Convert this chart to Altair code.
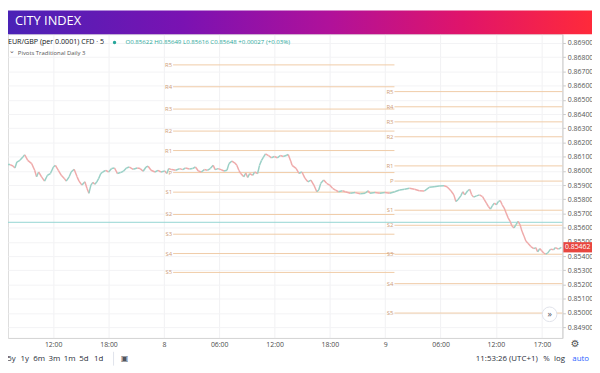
import altair as alt
import pandas as pd

FONT = "Open Sans"

# ---------------- data ----------------
# price path: (hours from 8th 00:00, price)
path_day7 = [
    (-17.75, 0.86044), (-16.68, 0.86044), (-16.36, 0.86034), (-16.15, 0.86020), (-15.94, 0.86062),
    (-15.61, 0.86074), (-15.29, 0.86097), (-15.08, 0.86113), (-14.76, 0.86074), (-14.33, 0.86051),
    (-14.01, 0.86004), (-13.80, 0.85958), (-13.58, 0.85992), (-13.26, 0.85958), (-12.94, 0.85928),
    (-12.62, 0.85969), (-12.30, 0.85981), (-11.98, 0.86027), (-11.76, 0.86039), (-11.44, 0.86004),
    (-11.12, 0.85969), (-10.80, 0.85947), (-10.59, 0.85928), (-10.27, 0.85958), (-10.05, 0.85992),
    (-9.73, 0.86011), (-9.41, 0.85958), (-9.20, 0.85928), (-8.88, 0.85900), (-8.56, 0.85923),
    (-8.34, 0.85877), (-8.13, 0.85842), (-7.91, 0.85900), (-7.70, 0.85919), (-7.49, 0.85905),
    (-7.27, 0.85923), (-7.06, 0.85947), (-6.84, 0.85981), (-6.63, 0.85992), (-6.31, 0.86004),
    (-5.99, 0.85992), (-5.67, 0.86016), (-5.35, 0.86020), (-5.03, 0.85981), (-4.71, 0.85988),
    (-4.39, 0.85997), (-4.06, 0.86020), (-3.74, 0.86027), (-3.32, 0.86011), (-2.89, 0.86020),
    (-2.57, 0.86016), (-2.25, 0.85997),
]
path_day8_am = [
    (-1.93, 0.86027), (-1.71, 0.86032), (-1.39, 0.86004), (-0.96, 0.85992), (-0.64, 0.86004),
    (-0.32, 0.85992), (0.11, 0.85999), (0.32, 0.85981), (0.53, 0.86016), (0.86, 0.86009),
    (1.28, 0.86004), (1.71, 0.86016), (2.03, 0.86009), (2.35, 0.86020), (2.78, 0.86013),
    (3.10, 0.86016), (3.42, 0.86027), (3.74, 0.85999), (4.06, 0.85992), (4.39, 0.86009),
    (4.71, 0.86004), (5.03, 0.86016), (5.35, 0.86039), (5.56, 0.86009), (5.88, 0.86016),
    (6.20, 0.86009), (6.52, 0.85999), (6.84, 0.86004), (7.06, 0.86051), (7.38, 0.86069),
    (7.70, 0.86055), (7.91, 0.86039), (8.13, 0.86004), (8.34, 0.85981), (8.66, 0.85958),
    (8.88, 0.85985), (9.09, 0.85953), (9.30, 0.85981), (9.63, 0.85969), (9.84, 0.85992),
    (10.16, 0.85981), (10.37, 0.86039), (10.59, 0.86074), (10.80, 0.86097), (11.02, 0.86120),
    (11.34, 0.86108), (11.66, 0.86092), (11.98, 0.86101), (12.30, 0.86092), (12.62, 0.86108),
    (12.94, 0.86101), (13.26, 0.86108),
]
path_day8_pm = [
    (13.48, 0.86115), (13.75, 0.86070), (13.90, 0.86039), (14.33, 0.86018), (14.65, 0.85983),
    (14.97, 0.85992), (15.29, 0.85949), (15.61, 0.85923), (15.94, 0.85935), (16.26, 0.85900),
    (16.58, 0.85853), (16.79, 0.85865), (17.01, 0.85912), (17.33, 0.85935), (17.65, 0.85912),
    (17.97, 0.85900), (18.29, 0.85877), (18.61, 0.85865), (18.93, 0.85853), (19.36, 0.85860),
    (19.68, 0.85853), (20.21, 0.85842), (20.75, 0.85847), (21.28, 0.85838), (21.82, 0.85842),
    (22.14, 0.85860), (22.35, 0.85842), (22.89, 0.85847), (23.42, 0.85842), (23.96, 0.85847),
    (24.49, 0.85842), (25.03, 0.85853), (25.56, 0.85865), (26.10, 0.85870), (26.63, 0.85877),
    (27.17, 0.85870), (27.70, 0.85860), (28.24, 0.85858), (28.77, 0.85884),
]
path_day9 = [
    (29.30, 0.85888), (29.84, 0.85893), (30.37, 0.85895), (30.70, 0.85888), (31.12, 0.85860),
    (31.44, 0.85831), (31.66, 0.85784), (31.87, 0.85796), (32.19, 0.85824), (32.41, 0.85853),
    (32.62, 0.85831), (32.94, 0.85860), (33.16, 0.85870), (33.37, 0.85831), (33.58, 0.85815),
    (33.90, 0.85824), (34.22, 0.85831), (34.55, 0.85819), (34.76, 0.85796), (34.97, 0.85773),
    (35.19, 0.85749), (35.40, 0.85731), (35.61, 0.85754), (35.83, 0.85773), (36.04, 0.85761),
    (36.26, 0.85784), (36.47, 0.85791), (36.68, 0.85761), (36.90, 0.85738), (37.11, 0.85703),
    (37.33, 0.85669), (37.54, 0.85645), (37.75, 0.85610), (37.97, 0.85599), (38.18, 0.85622),
    (38.40, 0.85645), (38.61, 0.85622), (38.82, 0.85576), (39.04, 0.85541), (39.25, 0.85506),
    (39.47, 0.85490), (39.79, 0.85467), (40.11, 0.85453), (40.32, 0.85460), (40.53, 0.85430),
    (40.75, 0.85453), (40.96, 0.85437), (41.18, 0.85421), (41.39, 0.85414), (41.60, 0.85421),
    (41.93, 0.85449), (42.25, 0.85444), (42.46, 0.85460), (42.78, 0.85449), (43.10, 0.85462),
]

pivot_names = ["R5", "R4", "R3", "R2", "R1", "P", "S1", "S2", "S3", "S4", "S5"]
pivots_day8 = [0.86746, 0.86592, 0.86435, 0.86280, 0.86143, 0.85988, 0.85850, 0.85693, 0.85554, 0.85418, 0.85285]
pivots_day9 = [0.86558, 0.86451, 0.86345, 0.86240, 0.86035, 0.85928, 0.85723, 0.85617, 0.85413, 0.85206, 0.84999]
pivot_periods = [(1.0, 25.0), (25.0, 49.0)]

hline_price = 0.85638
last_price = 0.85462

x_tick_hours = [-12, -6, 0, 6, 12, 18, 24, 30, 36, 41]
x_tick_labels = ["12:00", "18:00", "8", "06:00", "12:00", "18:00", "9", "06:00", "12:00", "17:00"]
y_ticks = [0.849, 0.850, 0.851, 0.852, 0.853, 0.854, 0.855, 0.856, 0.857, 0.858, 0.859,
           0.860, 0.861, 0.862, 0.863, 0.864, 0.865, 0.866, 0.867, 0.868, 0.869]

ranges = ["5y", "1y", "6m", "3m", "1m", "5d", "1d"]

# ---------------- frames ----------------
path = pd.DataFrame(path_day7 + path_day8_am + path_day8_pm + path_day9, columns=["t", "p"])
path["t2"] = path["t"].shift(-1)
path["p2"] = path["p"].shift(-1)
path = path.dropna()
path["dir"] = (path["p2"] >= path["p"]).map({True: "up", False: "down"})

piv_rows = []
for (t0, t1), levels in zip(pivot_periods, [pivots_day8, pivots_day9]):
    for name, val in zip(pivot_names, levels):
        piv_rows.append({"name": name, "p": val, "t0": t0, "t1": t1})
piv = pd.DataFrame(piv_rows)

one = pd.DataFrame({"a": [0]})

# ---------------- scales / axes ----------------
label_expr = ""
for v, lab in zip(x_tick_hours, x_tick_labels):
    label_expr += f"datum.value == {v} ? '{lab}' : "
label_expr += "''"

xscale = alt.Scale(domain=[-16.9, 43.21], nice=False, zero=False)
yscale = alt.Scale(domain=[0.848236, 0.869625], nice=False, zero=False)
xaxis = alt.Axis(values=x_tick_hours, labelExpr=label_expr, grid=True, gridColor="#f1f1f3",
                 ticks=False, domainColor="#d6d6d6", labelFont=FONT, labelFontSize=7,
                 labelColor="#4a4a4a", labelPadding=3, labelFlush=False, labelOverlap=False, title=None)
yaxis = alt.Axis(orient="right", values=y_ticks, format=".5f", grid=True, gridColor="#f3f3f5",
                 tickSize=3, tickColor="#c9c9c9", domainColor="#cfcfcf", labelFont=FONT,
                 labelFontSize=7, labelColor="#555555", labelPadding=2, labelOverlap=False, title=None)


def X(f):
    return alt.X(f, type="quantitative", scale=xscale, axis=xaxis, title=None)


def Y(f):
    return alt.Y(f, type="quantitative", scale=yscale, axis=yaxis, title=None)


def txt(s, x, y, font=FONT, **kw):
    return alt.Chart(one).mark_text(text=s, font=font, **kw).encode(x=alt.value(x), y=alt.value(y))


# ---------------- layers ----------------
hline = alt.Chart(pd.DataFrame({"p": [hline_price]})).mark_rule(color="#92d5d2", strokeWidth=1).encode(y=Y("p"))

piv_lines = alt.Chart(piv).mark_rule(color="#f0cba7", strokeWidth=1, clip=True).encode(
    x=X("t0"), x2="t1", y=Y("p"))
piv_labels = alt.Chart(piv).mark_text(align="right", baseline="middle", dx=-1, fontSize=6,
                                      color="#cfa07c", font=FONT).encode(x=X("t0"), y=Y("p"), text="name")

price = alt.Chart(path).mark_rule(strokeWidth=1.5, clip=True).encode(
    x=X("t"), x2="t2", y=Y("p"), y2="p2",
    color=alt.Color("dir:N", scale=alt.Scale(domain=["up", "down"], range=["#9ad0c6", "#efabab"]), legend=None))

grad = alt.LinearGradient(gradient="linear", x1=0, x2=1, y1=0, y2=0, stops=[
    alt.GradientStop(color="#4a22b6", offset=0),
    alt.GradientStop(color="#7a12b2", offset=0.3),
    alt.GradientStop(color="#b0119a", offset=0.55),
    alt.GradientStop(color="#e0146a", offset=0.78),
    alt.GradientStop(color="#ff2a3a", offset=1),
])
header = alt.Chart(one).mark_rect(fill=grad).encode(
    x=alt.value(0), x2=alt.value(592), y=alt.value(-24), y2=alt.value(0))
header_text = txt("CITY INDEX", 7, -13, align="left", baseline="middle", fontSize=13, color="white")

sym = txt("EUR/GBP (per 0.0001) CFD · 5", 0, 8.5, align="left", baseline="middle", fontSize=7.2, color="#131722")
dot = alt.Chart(one).mark_point(filled=True, color="#26a69a", size=12, opacity=1).encode(
    x=alt.value(108), y=alt.value(8.5))
ohlc = txt("O0.85622 H0.85649 L0.85616 C0.85648 +0.00027 (+0.03%)", 119, 8.5, align="left",
           baseline="middle", fontSize=6.2, color="#2aa89a")
chev = txt("⌄", 4, 17.5, font="DejaVu Sans", align="center", baseline="middle", fontSize=7, color="#555555")
pivlbl = txt("Pivots Traditional Daily 3", 10, 19, align="left", baseline="middle", fontSize=6, color="#555555")

box_df = pd.DataFrame({"p": [last_price], "hi": [last_price + 0.00036], "lo": [last_price - 0.00036]})
box = alt.Chart(box_df).mark_rect(fill="#e8463f").encode(x=alt.value(563), x2=alt.value(592), y=Y("hi"), y2="lo")
box_text = alt.Chart(box_df).mark_text(color="white", fontSize=7, font=FONT, align="center",
                                       baseline="middle").encode(
    x=alt.value(577.5), y=Y("p"), text=alt.Text("p:Q", format=".5f"))

btn = alt.Chart(one).mark_point(filled=True, fill="white", stroke="#dfe2ea", strokeWidth=1, size=220,
                                opacity=1, shape="circle").encode(x=alt.value(549), y=alt.value(284))
btn_t = txt("»", 549, 283.5, align="center", baseline="middle", fontSize=9, color="#50535e")

gear = txt("⚙", 575, 314, font="DejaVu Sans", align="center", baseline="middle", fontSize=10, color="#555555")

toolbar = []
range_x = [3.5, 17, 31.5, 47, 62.5, 77, 92]
for s, x in zip(ranges, range_x):
    toolbar.append(txt(s, x, 329, align="center", baseline="middle", fontSize=8, color="#2a2e39"))
sep = alt.Chart(one).mark_rule(color="#e0e3eb").encode(x=alt.value(107), y=alt.value(322), y2=alt.value(336))
cal = txt("▣", 118, 329, font="DejaVu Sans", align="center", baseline="middle", fontSize=8, color="#50535e")
clock = txt("11:53:26 (UTC+1)", 537, 329, align="right", baseline="middle", fontSize=8, color="#2a2e39")
pct = txt("%", 546, 329, align="center", baseline="middle", fontSize=8, color="#2a2e39")
logt = txt("log", 559, 329, align="center", baseline="middle", fontSize=8, color="#2a2e39")
auto = txt("auto", 580.5, 329, align="center", baseline="middle", fontSize=8, color="#2962ff")

chart = alt.layer(
    hline, piv_lines, piv_labels, price, box, box_text, btn, btn_t,
    header, header_text, sym, dot, ohlc, chev, pivlbl, gear, sep, cal, clock, pct, logt, auto, *toolbar
).properties(
    width=562, height=308,
    autosize=alt.AutoSizeParams(type="none"),
    padding={"left": 0, "top": 24, "right": 30, "bottom": 32},
).configure_view(stroke=None).configure(background="white")

chart.save("out.html", embed_options={"renderer": "svg", "actions": False})
